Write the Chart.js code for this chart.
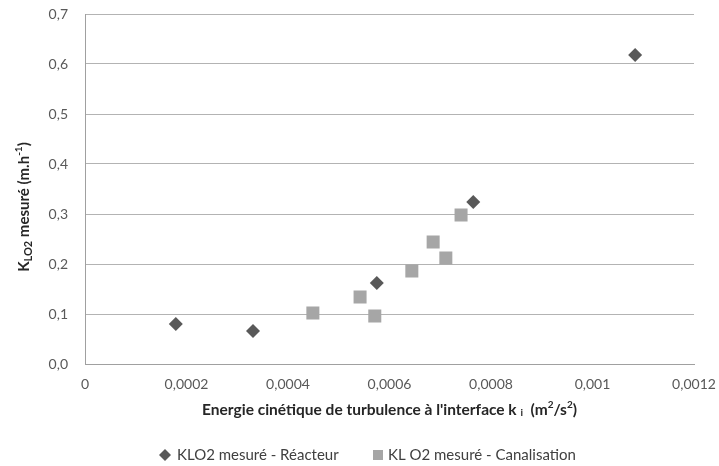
<!DOCTYPE html>
<html>
<head>
<meta charset="utf-8">
<script src="https://cdn.jsdelivr.net/npm/chart.js@4"></script>
<style>
  html, body { margin: 0; background: #fff; }
  #wrap { width: 719px; height: 466px; }
</style>
</head>
<body>
<div id="wrap"><canvas id="chart"></canvas></div>
<script>
// Data
const reacteurX = [0.000179, 0.000331, 0.000575, 0.000765, 0.001084];
const reacteurY = [0.080, 0.066, 0.162, 0.324, 0.618];
const canalX = [0.000449, 0.000542, 0.000571, 0.000644, 0.000686, 0.000711, 0.000741];
const canalY = [0.102, 0.134, 0.096, 0.186, 0.244, 0.212, 0.298];
const seriesNames = ["KLO2 mesuré - Réacteur", "KL O2 mesuré - Canalisation"];
const xTicks = [0, 0.0002, 0.0004, 0.0006, 0.0008, 0.001, 0.0012];
const yTicks = [0, 0.1, 0.2, 0.3, 0.4, 0.5, 0.6, 0.7];

const FONT = "Lato, 'Open Sans', sans-serif";
const darkGray = "#595959";
const lightGray = "#a6a6a6";

function toPoints(xs, ys) {
  return xs.map((x, i) => ({ x: x, y: ys[i] }));
}

// text with sub/superscripts, centered on (0,0) of the current transform
function drawRich(ctx, segs) {
  let total = 0;
  segs.forEach((s) => {
    ctx.font = "bold " + s.size + "px " + FONT;
    s.w = ctx.measureText(s.t).width;
    total += s.w;
  });
  let x = -total / 2;
  ctx.textBaseline = "middle";
  ctx.textAlign = "left";
  segs.forEach((s) => {
    ctx.font = "bold " + s.size + "px " + FONT;
    ctx.fillText(s.t, x, s.dy || 0);
    x += s.w;
  });
}

const labelsPlugin = {
  id: "labels",
  afterDraw(chart) {
    const ctx = chart.ctx;
    const area = chart.chartArea;
    ctx.save();
    ctx.fillStyle = "#262626";

    // y axis title
    ctx.save();
    ctx.translate(24, 207);
    ctx.rotate(-Math.PI / 2);
    drawRich(ctx, [
      { t: "K", size: 15 },
      { t: "LO2", size: 11, dy: 4 },
      { t: " mesuré (m.h", size: 15 },
      { t: "-1", size: 10, dy: -5 },
      { t: ")", size: 15 },
    ]);
    ctx.restore();

    // x axis title
    ctx.save();
    ctx.translate((area.left + area.right) / 2, 410);
    drawRich(ctx, [
      { t: "Energie cinétique de turbulence à l'interface k ", size: 15.5 },
      { t: "i", size: 10, dy: 3 },
      { t: "  (m", size: 15.5 },
      { t: "2", size: 10, dy: -5 },
      { t: "/s", size: 15.5 },
      { t: "2", size: 10, dy: -5 },
      { t: ")", size: 15.5 },
    ]);
    ctx.restore();

    // legend
    const ly = 455;
    ctx.font = "15px " + FONT;
    ctx.textBaseline = "middle";
    ctx.textAlign = "left";
    ctx.fillStyle = darkGray;
    ctx.beginPath();
    ctx.moveTo(165, ly - 6);
    ctx.lineTo(171, ly);
    ctx.lineTo(165, ly + 6);
    ctx.lineTo(159, ly);
    ctx.closePath();
    ctx.fill();
    ctx.fillStyle = "#404040";
    ctx.fillText(seriesNames[0], 177, ly);
    ctx.fillStyle = lightGray;
    ctx.fillRect(373, ly - 5, 10, 10);
    ctx.fillStyle = "#404040";
    ctx.fillText(seriesNames[1], 388, ly);
    ctx.restore();
  },
};

new Chart(document.getElementById("chart").getContext("2d"), {
  type: "scatter",
  data: {
    datasets: [
      {
        label: seriesNames[0],
        data: toPoints(reacteurX, reacteurY),
        pointStyle: "rectRot",
        pointRadius: 7,
        pointHoverRadius: 7,
        backgroundColor: darkGray,
        borderColor: darkGray,
        borderWidth: 0,
      },
      {
        label: seriesNames[1],
        data: toPoints(canalX, canalY),
        pointStyle: "rect",
        pointRadius: 9.2,
        pointHoverRadius: 9.2,
        backgroundColor: lightGray,
        borderColor: lightGray,
        borderWidth: 0,
      },
    ],
  },
  options: {
    responsive: true,
    maintainAspectRatio: false,
    animation: false,
    layout: { autoPadding: false, padding: { left: 0, right: 25, top: 14, bottom: 0 } },
    plugins: {
      legend: { display: false },
      tooltip: { enabled: false },
    },
    scales: {
      x: {
        type: "linear",
        min: xTicks[0],
        max: xTicks[xTicks.length - 1],
        afterBuildTicks: (scale) => {
          scale.ticks = xTicks.map((v) => ({ value: v }));
        },
        afterFit: (scale) => {
          // fixed axis band; let layout padding set the plot edges
          scale.height = 102;
          scale.paddingLeft = 0;
          scale.paddingRight = 0;
        },
        grid: { display: false, drawTicks: false },
        border: { display: true, color: "#a0a0a0", width: 1 },
        ticks: {
          padding: 12,
          color: darkGray,
          font: { family: FONT, size: 14 },
          maxRotation: 0,
          callback: (v) => String(parseFloat(Number(v).toFixed(4))).replace(".", ","),
        },
      },
      y: {
        type: "linear",
        min: yTicks[0],
        max: yTicks[yTicks.length - 1],
        afterBuildTicks: (scale) => {
          scale.ticks = yTicks.map((v) => ({ value: v }));
        },
        afterFit: (scale) => {
          scale.width = 85;
          scale.paddingTop = 0;
          scale.paddingBottom = 0;
        },
        grid: { color: "#b3b3b3", lineWidth: 1, drawTicks: false },
        border: { display: true, color: "#a0a0a0", width: 1 },
        ticks: {
          padding: 17,
          color: darkGray,
          font: { family: FONT, size: 14 },
          callback: (v) => Number(v).toFixed(1).replace(".", ","),
        },
      },
    },
  },
  plugins: [labelsPlugin],
});
</script>
</body>
</html>
